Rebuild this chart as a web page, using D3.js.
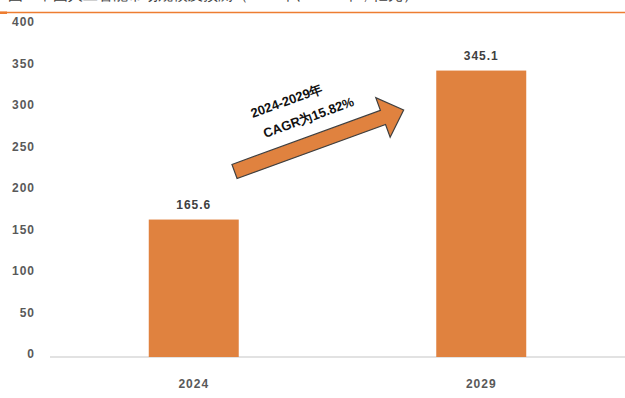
<!DOCTYPE html>
<html>
<head>
<meta charset="utf-8">
<script src="https://cdn.jsdelivr.net/npm/d3@7"></script>
<style>
  body { margin: 0; background: #fff; }
  svg { display: block; }
  text { font-family: "Liberation Sans", Arial, sans-serif; }
</style>
</head>
<body>
<svg class="chart"></svg>
<script>
var years = ['2024', '2029'];
var values = [165.6, 345.1];
var yTicks = [0, 50, 100, 150, 200, 250, 300, 350, 400];
var title = '图：中国人工智能市场规模及预测（2024年、2029年，亿元）';
var cagrLines = ['2024-2029年', 'CAGR为15.82%'];

var W = 625, H = 398;
var margin = { top: 25, right: 0, bottom: 41, left: 50 };

var svg = d3.select('.chart')
  .attr('width', W)
  .attr('height', H);

// title cut off by the top edge, orange rule below it
svg.append('text')
  .attr('x', 8)
  .attr('y', 0)
  .attr('font-size', 14.5)
  .attr('fill', '#404040')
  .attr('font-family', '"Noto Sans CJK SC", sans-serif')
  .text(title);

svg.append('line')
  .attr('x1', 0).attr('x2', W)
  .attr('y1', 12.5).attr('y2', 12.5)
  .attr('stroke', '#ED7D31')
  .attr('stroke-width', 1.3);
svg.append('rect')
  .attr('x', 0).attr('y', 11.5)
  .attr('width', 7).attr('height', 2.5)
  .attr('fill', '#ED7D31');

var x = d3.scaleBand().domain(years).range([margin.left, W - margin.right]);
var y = d3.scaleLinear().domain([0, 400]).range([H - margin.bottom, margin.top]);
var barW = x.bandwidth() * 0.313;

// Y axis labels
var yAxis = d3.axisLeft(y).tickValues(yTicks).tickSize(0).tickPadding(0);
var gy = svg.append('g')
  .attr('transform', 'translate(35,-3)')
  .call(yAxis);
gy.select('.domain').remove();
gy.selectAll('text')
  .attr('font-size', 12)
  .attr('font-weight', 'bold')
  .attr('letter-spacing', 1)
  .attr('fill', '#595959')
  .attr('font-family', '"Liberation Sans", Arial, sans-serif');

// baseline
svg.append('line')
  .attr('x1', margin.left).attr('x2', W)
  .attr('y1', y(0)).attr('y2', y(0))
  .attr('stroke', '#d9d9d9')
  .attr('stroke-width', 1.5);

// bars
svg.selectAll('.bar')
  .data(values)
  .enter().append('rect')
  .attr('class', 'bar')
  .attr('x', (d, i) => x(years[i]) + x.bandwidth() / 2 - barW / 2)
  .attr('y', d => y(d))
  .attr('width', barW)
  .attr('height', d => y(0) - y(d))
  .attr('fill', '#E0823F');

// value labels
svg.selectAll('.val')
  .data(values)
  .enter().append('text')
  .attr('class', 'val')
  .attr('x', (d, i) => x(years[i]) + x.bandwidth() / 2)
  .attr('y', d => y(d) - 11)
  .attr('text-anchor', 'middle')
  .attr('font-size', 12)
  .attr('font-weight', 'bold')
  .attr('letter-spacing', 1)
  .attr('fill', '#404040')
  .text(d => d.toFixed(1));

// X axis labels
var xAxis = d3.axisBottom(x).tickSize(0).tickPadding(0);
var gx = svg.append('g')
  .attr('transform', 'translate(0,' + (y(0) + 22) + ')')
  .call(xAxis);
gx.select('.domain').remove();
gx.selectAll('text')
  .attr('font-size', 12)
  .attr('font-weight', 'bold')
  .attr('letter-spacing', 1)
  .attr('fill', '#595959')
  .attr('font-family', '"Liberation Sans", Arial, sans-serif');

// growth arrow
var len = 180, shaftHalf = 7.5, headLen = 22, headHalf = 21;
var arrow = svg.append('g')
  .attr('transform', 'translate(234.5,171.5) rotate(-20)');
arrow.append('path')
  .attr('d', d3.line()([
    [0, -shaftHalf], [len - headLen, -shaftHalf], [len - headLen, -headHalf],
    [len, 0],
    [len - headLen, headHalf], [len - headLen, shaftHalf], [0, shaftHalf]
  ]) + 'Z')
  .attr('fill', '#E0823F')
  .attr('stroke', '#3f3f3f')
  .attr('stroke-width', 1.2)
  .attr('stroke-linejoin', 'miter');

var label = svg.append('g')
  .attr('transform', 'translate(298,109) rotate(-20)');
label.selectAll('text')
  .data(cagrLines)
  .enter().append('text')
  .attr('x', (d, i) => i === 0 ? -8 : 7)
  .attr('y', (d, i) => i === 0 ? -7 : 16)
  .attr('text-anchor', 'middle')
  .attr('font-size', 13)
  .attr('font-weight', 'bold')
  .attr('fill', '#111')
  .attr('font-family', '"Noto Sans CJK SC", sans-serif')
  .text(d => d);
</script>
</body>
</html>
